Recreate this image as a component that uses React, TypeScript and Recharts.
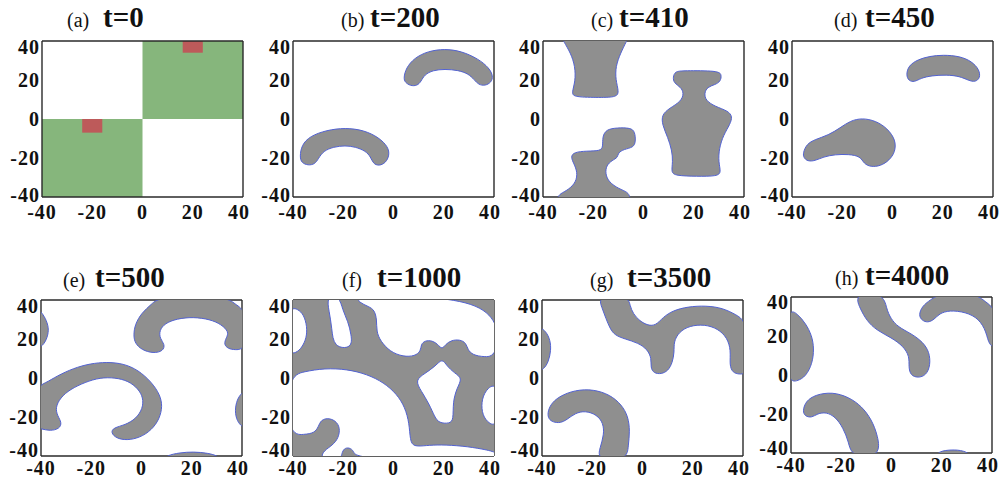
import React from "react";
import { ScatterChart, Scatter, XAxis, YAxis, ReferenceArea } from "recharts";

type Pt = [number, number];

const MAJOR = [-40, -20, 0, 20, 40];
const MINOR = [-40, -30, -20, -10, 0, 10, 20, 30, 40];

// (a) t=0 : rectangles [x1, x2, y1, y2]
const A_GREEN = [
  [0, 40, 0, 40],
  [-40, 0, -40, 0],
];
const A_RED = [
  [16, 24, 34, 40],
  [-24, -16, -7, 0],
];

// (b) t=200
const B_UPPER: Pt[] = [[4, 21], [5, 26.2], [8.3, 31.3], [13.7, 34.8], [20.4, 36], [27.1, 34.8], [33.8, 30.8], [38.1, 26.2], [39.7, 21.9], [38.9, 18.8], [36.5, 17], [33.8, 17.6], [32.2, 20.1], [29.8, 23.2], [25.8, 25], [20.4, 25.6], [15.7, 25], [12.3, 22.7], [11, 19.3], [9.4, 17], [6.7, 17], [4.6, 18.8]];
const B_LOWER: Pt[] = [[-37.3, -19.4], [-36.6, -13.4], [-33.3, -8.8], [-26.6, -5.7], [-19.2, -4.5], [-11.8, -5.7], [-5.8, -9.5], [-2.1, -14.3], [-1.6, -18.6], [-3.1, -22.5], [-5.8, -24.1], [-8.1, -22.9], [-9.1, -19.4], [-11.1, -16.4], [-15.2, -14.3], [-19.2, -13.6], [-23.9, -14.3], [-27.9, -16.4], [-29.9, -20.3], [-31.3, -23.2], [-34, -23.8], [-36.6, -22.5]];

// (c) t=410
const C_TOP: Pt[] = [[-32.5, 42], [-31.9, 40], [-29, 33.9], [-27.2, 27], [-27.1, 19.3], [-28.6, 13.3], [-27.7, 11.2], [-17.2, 11], [-10.5, 11.2], [-9.8, 14.1], [-11.1, 20.1], [-11.1, 27], [-9.1, 33.9], [-6.7, 40], [-6, 42]];
const C_LOWER: Pt[] = [[-34.8, -42], [-34, -40], [-33.3, -38.4], [-29.9, -36.3], [-26.8, -32.4], [-26.3, -27.2], [-27.7, -22.9], [-29, -19.4], [-27.7, -17], [-22.6, -16.4], [-17.2, -16.4], [-16.1, -14.3], [-16.4, -9.1], [-14.8, -5.3], [-10.5, -4.5], [-5.1, -4.5], [-3.4, -6.5], [-3.1, -11.7], [-4, -14.6], [-7.8, -15.5], [-10.2, -17.4], [-10.2, -19.8], [-12.5, -21.2], [-14.8, -23.8], [-15.2, -28.1], [-13.8, -32.4], [-9.8, -35.8], [-6.2, -37.5], [-5.4, -40], [-5, -42]];
const C_VASE: Pt[] = [[11.7, 21.5], [12.6, 24.4], [15.7, 24.8], [29.8, 24.8], [31.1, 22.7], [30.7, 19.3], [28.5, 17.6], [25.4, 16.4], [24.2, 13.3], [24.7, 9.5], [28.5, 6.4], [33.8, 4.1], [35.4, 1.2], [34.5, -2.6], [31.8, -8.3], [30.1, -15.1], [29.8, -22], [30.9, -27.2], [29.5, -29.4], [21.1, -29.4], [12.6, -29.1], [11, -27.2], [11.7, -22], [11.3, -16], [9.7, -9.5], [7.5, -3.1], [7.2, 2.1], [10.3, 5.5], [15, 9], [16.1, 13.3], [14.8, 16.4], [12.1, 18.4]];

// (d) t=450
const D_UPPER: Pt[] = [[5.4, 22.7], [6.4, 27.4], [10.1, 30.5], [14.8, 32.2], [20.1, 32.9], [26.8, 32.2], [31.5, 29.6], [34.6, 25.3], [34.9, 21], [32.9, 18.9], [30.2, 19.8], [26.8, 21.9], [21.5, 22.7], [15.4, 22.2], [11.4, 21], [8.7, 18.9], [6.4, 19.6]];
const D_LOWER: Pt[] = [[-35.6, -17.4], [-34.2, -12.9], [-30.9, -10.5], [-25.5, -8.3], [-20.8, -4.5], [-16.8, -0.9], [-12.1, 0.5], [-6.7, -0.9], [-2, -4.8], [1.3, -10.8], [1.1, -16.9], [-1.3, -21.2], [-4.7, -24.1], [-8.7, -24.6], [-11.4, -22.9], [-12.8, -19.1], [-17.4, -18.1], [-22.8, -18.2], [-27.5, -19.4], [-30.9, -21.5], [-33.8, -21.7], [-35.4, -19.8]];

// (e) t=500
const E_LEFT: Pt[] = [[-42, 35], [-40.2, 34.4], [-38.3, 30.9], [-36.8, 25.8], [-37.4, 20.7], [-39.4, 16.1], [-42, 15.5]];
const E_TOPRIGHT: Pt[] = [[-3.2, 21.9], [-2.6, 27.5], [0.1, 33.5], [4, 37.8], [7.3, 42], [33.8, 42], [37.1, 37.8], [42, 34.4], [42, 14.7], [37.1, 14.4], [34.5, 15], [32.7, 17.3], [33.8, 20.7], [34.8, 23.6], [31.8, 27.5], [27.2, 30.1], [20.6, 31.3], [14, 30.4], [9.3, 28], [7.1, 24.4], [7.3, 20.2], [9.3, 17.3], [8.7, 13.8], [4.7, 12.6], [0.1, 14.4], [-2.6, 17.8]];
const E_ARC: Pt[] = [[-42, -4.4], [-38.3, -2.7], [-33.7, 1], [-27.1, 5], [-20.4, 7.4], [-13.8, 8.2], [-7.2, 7.4], [-1.3, 4.1], [4, -2.1], [7.3, -8.4], [8.4, -14.4], [7.1, -21.2], [4, -26.7], [-0.6, -30.6], [-5.9, -32], [-10.1, -30.9], [-12.2, -28], [-11.2, -25.5], [-6.5, -24.1], [-2.2, -20.9], [0.5, -15.7], [0.7, -10.1], [-1.3, -5.5], [-5.2, -1.5], [-10.5, 0.2], [-16.5, 0.2], [-22.4, -2.1], [-28.4, -5.8], [-32.3, -10.1], [-34.3, -15.2], [-33.4, -19.5], [-31.7, -22.9], [-32.6, -26], [-36.3, -27.2], [-40, -26], [-42, -25.5]];
const E_RIGHT: Pt[] = [[42, -6], [40, -7.5], [38, -10.9], [37.1, -16.9], [38, -22.1], [40, -25], [42, -26]];
const E_BOTTOM: Pt[] = [[9, -42], [10, -39.7], [15.3, -38.3], [20.6, -37.8], [26.5, -38.5], [30.5, -40], [31.5, -42]];

// (f) t=1000 : grey field with white holes
const F_FIELD: Pt[] = [[-42, -42], [-42, 42], [42, 42], [42, -42]];
const F_HOLE_LEFT: Pt[] = [[-42, 36.6], [-38, 35.4], [-35.7, 32.4], [-34.4, 26.5], [-34.6, 20.5], [-36.5, 15.5], [-38.7, 12.9], [-42, 12.1]];
const F_HOLE_SLIT: Pt[] = [[-26.7, 42], [-25.6, 34.1], [-24.5, 25.6], [-23.9, 15.5], [-16.4, 15.1], [-16.8, 22.2], [-18.1, 29], [-20.3, 34.9], [-21.5, 42]];
const F_HOLE_TOP: Pt[] = [[-15.3, 42], [-13.8, 38.8], [-9.8, 36.6], [-7.6, 34.9], [-6.6, 29.9], [-6.8, 23.9], [-5.2, 18.9], [-1.3, 13.4], [3.9, 10.9], [8.5, 11.2], [10.9, 13.8], [10.9, 17.2], [12.5, 19.2], [15.5, 19.2], [17.7, 17.2], [19.3, 14.6], [20.7, 17.2], [23, 19.4], [26.5, 19.7], [28.9, 18], [29.5, 14.6], [31.5, 11.8], [36.1, 10.7], [42, 11.2], [42, 42]];
const F_HOLE_TRI: Pt[] = [[8.5, -1.1], [12.5, 2.3], [16.8, 6.2], [19.4, 10.1], [21.2, 6.2], [24.3, 2.5], [27.5, -0.1], [25.2, -5.2], [23.6, -12.4], [23.9, -21.4], [22.3, -23.4], [18.1, -23.1], [16.4, -20], [14.2, -13.3], [11.1, -6.8]];
const F_HOLE_RIGHT: Pt[] = [[42, -2.3], [37.4, -4.8], [35.1, -10.7], [35.1, -17.5], [37, -22.6], [42, -26]];
const F_HOLE_LOWER: Pt[] = [[-42, 1.1], [-35.4, 3.3], [-27.5, 5], [-18.4, 4.5], [-10.5, 1.9], [-3.9, -2.3], [1.3, -8.2], [4.6, -15], [6.3, -23.4], [6.6, -31.9], [7.9, -35.3], [13.1, -34.6], [18.4, -34.2], [27.5, -34.8], [35.4, -36.4], [42, -38.3], [42, -42], [-15.1, -42], [-15.7, -37.3], [-17.7, -35.6], [-19.7, -36.1], [-20.6, -38.7], [-21, -42], [-28.9, -42], [-28.2, -37.8], [-25.2, -35.3], [-22.3, -31.9], [-21.2, -26.8], [-22.3, -22.6], [-25.6, -20.4], [-28.9, -21.4], [-29.9, -25.1], [-31.5, -28.2], [-35.4, -29], [-42, -29.3]];

// (g) t=3500
const G_LEFT: Pt[] = [[-42, 27.5], [-38.3, 23.9], [-36.7, 19.3], [-36.4, 14.2], [-37.4, 8.3], [-39.3, 4.4], [-42, 3.2]];
const G_MAIN: Pt[] = [[-17.8, 42], [-16.2, 36.3], [-14.5, 30.3], [-12.9, 25.3], [-11, 21.9], [-7, 20], [-1.7, 18], [2, 14.6], [3.6, 10], [3.2, 5.4], [4.5, 2.4], [7.5, 2], [10.2, 3.7], [11.9, 7.8], [12.7, 13.4], [12.4, 18.5], [14.5, 23.6], [18.7, 26.8], [24.7, 27.5], [30, 25.3], [33.7, 20.7], [35.2, 14.2], [34.6, 6.6], [35.9, 2.7], [38.5, 1.9], [42, 2], [42, 28.6], [37.2, 32.5], [31.9, 35.9], [25.3, 37.1], [18.1, 36.6], [12.1, 34.6], [8.2, 31.2], [5.3, 26.9], [2.2, 26.9], [-1.1, 29.2], [-3.7, 32.9], [-5, 37.1], [-5.6, 42]];
const G_LOWER: Pt[] = [[-37.8, -18], [-36.7, -13.7], [-33.4, -9.5], [-26.8, -6.1], [-19.5, -5.8], [-12.9, -8.6], [-8.3, -13.7], [-5.7, -19.7], [-5, -27.3], [-5.7, -34.9], [-6.1, -42], [-18.1, -42], [-16.9, -35.8], [-15.3, -29], [-15.6, -23.1], [-18.2, -18.8], [-22.8, -16.8], [-26.8, -18], [-30.1, -21.4], [-32.7, -23.1], [-35.6, -22.7], [-37.4, -21]];

// (h) t=4000
const H_LEFT: Pt[] = [[-42, 34.9], [-37.4, 31.5], [-34.1, 26.3], [-31.7, 20.3], [-30.8, 13.5], [-31.5, 5.8], [-34.1, -0.7], [-37.4, -3.2], [-42, -3.8]];
const H_STEM: Pt[] = [[-14.9, 42], [-12.5, 34], [-9.8, 27.7], [-5.9, 22.9], [0, 19.1], [4.6, 14.9], [7.2, 9.6], [6.8, 4.1], [7.6, -0.2], [10.5, -1.5], [13.8, -0.2], [15.5, 5], [15.1, 11.8], [12.5, 16.9], [7.9, 21.2], [2.6, 24.6], [-0.3, 28.9], [-2, 34], [-3.2, 42]];
const H_ARCH: Pt[] = [[10.8, 30.6], [12.1, 35.2], [15.5, 38.6], [19.7, 42], [33.4, 42], [37.4, 37.4], [42, 33.5], [42, 13.5], [38.7, 15.2], [37.8, 22.1], [34.8, 28.9], [29.5, 32.3], [23, 33.2], [19, 31.5], [17, 28.4], [14.4, 26.8], [12.1, 28]];
const H_LOWER: Pt[] = [[-35.4, -18.5], [-34.1, -13.3], [-30.2, -10.1], [-23.6, -8.7], [-17, -11.3], [-11.8, -16.1], [-7.9, -22.9], [-5.5, -30.9], [-4.2, -42], [-16, -42], [-17, -34.4], [-19.3, -27], [-22.3, -21.5], [-26, -19], [-29.5, -19.8], [-31.7, -21.9], [-34.4, -21.2]];
const H_BOTTOM: Pt[] = [[17, -42], [19, -39.1], [23.6, -38.3], [28.9, -38.6], [32.8, -42]];

const GRAY = "#8f8f8f";
const EDGE = "#5262d2";
const GREEN = "#86b67c";
const RED = "#bd5a5a";
const FRAME = "#2a2a2a";
const TICK = "#8a8a8a";
const SERIF = "'Liberation Serif', 'Times New Roman', serif";

type Blob = { pts: Pt[]; fill: string; stroke: string; curve: "basisClosed" | "linearClosed" };
const blob = (pts: Pt[]): Blob => ({ pts, fill: GRAY, stroke: EDGE, curve: "basisClosed" });
const hole = (pts: Pt[]): Blob => ({ pts, fill: "#ffffff", stroke: EDGE, curve: "basisClosed" });

// yTop / yBot: vertical nudge of the 40 / -40 y labels, as in the original
const PANELS = [
  { id: "a", left: 42, top: 41, tm: 8, yTop: 6, yBot: -2, tag: "(a)", t: "t=0", tagX: 67, tX: 103, base: 27, rects: true, blobs: [] as Blob[] },
  { id: "b", left: 293, top: 41, tm: 8, yTop: 6, yBot: -2, tag: "(b)", t: "t=200", tagX: 341, tX: 370, base: 27, blobs: [blob(B_UPPER), blob(B_LOWER)] },
  { id: "c", left: 543, top: 41, tm: 8, yTop: 6, yBot: -2, tag: "(c)", t: "t=410", tagX: 591, tX: 619, base: 27, blobs: [blob(C_TOP), blob(C_LOWER), blob(C_VASE)] },
  { id: "d", left: 792, top: 41, tm: 8, yTop: 6, yBot: -2, tag: "(d)", t: "t=450", tagX: 834, tX: 865, base: 27, blobs: [blob(D_UPPER), blob(D_LOWER)] },
  { id: "e", left: 41, top: 300, tm: 5, yTop: 6, yBot: -6, tag: "(e)", t: "t=500", tagX: 63, tX: 95, base: 287, blobs: [blob(E_LEFT), blob(E_TOPRIGHT), blob(E_ARC), blob(E_RIGHT), blob(E_BOTTOM)] },
  {
    id: "f", left: 293, top: 300, tm: 5, yTop: 6, yBot: -6, tag: "(f)", t: "t=1000", tagX: 342, tX: 377, base: 287,
    blobs: [
      { pts: F_FIELD, fill: GRAY, stroke: "none", curve: "linearClosed" } as Blob,
      hole(F_HOLE_LEFT), hole(F_HOLE_SLIT), hole(F_HOLE_TOP), hole(F_HOLE_TRI), hole(F_HOLE_RIGHT), hole(F_HOLE_LOWER),
    ],
  },
  { id: "g", left: 542, top: 300, tm: 5, yTop: 6, yBot: -6, tag: "(g)", t: "t=3500", tagX: 590, tX: 627, base: 287, blobs: [blob(G_LEFT), blob(G_MAIN), blob(G_LOWER)] },
  { id: "h", left: 791, top: 297, tm: 5, yTop: 5, yBot: -5, tag: "(h)", t: "t=4000", tagX: 835, tX: 865, base: 285, blobs: [blob(H_LEFT), blob(H_STEM), blob(H_ARCH), blob(H_LOWER), blob(H_BOTTOM)] },
];

const tickFont = { fontFamily: SERIF, fontWeight: 700, fontSize: 20, fill: "#111", letterSpacing: 1 };

const YTick = (props: any) => {
  const { x, y, payload, yTop, yBot } = props;
  const shift = payload.value === 40 ? yTop : payload.value === -40 ? yBot : 0;
  return (
    <text x={x} y={y + shift} dy="0.35em" textAnchor="end" {...tickFont}>
      {payload.value}
    </text>
  );
};

const XTick = (props: any) => {
  const { x, y, payload } = props;
  const shift = payload.value === 40 ? -4 : 0;
  return (
    <text x={x + shift} y={y} dy="0.71em" textAnchor="middle" {...tickFont}>
      {payload.value}
    </text>
  );
};

function Panel({ p }: { p: any }) {
  const W = 201;
  const H = 156;
  return (
    <div style={{ position: "absolute", left: p.left - 45, top: p.top - 10 }}>
      <ScatterChart width={45 + W + 12} height={10 + H + 34} margin={{ top: 10, right: 12, bottom: 0, left: 5 }}>
        <XAxis xAxisId="b" type="number" dataKey="x" domain={[-40, 40]} allowDataOverflow ticks={MAJOR} interval={0}
          height={34} axisLine={false} tickLine={false} tickSize={0} tickMargin={p.tm} tick={(tp: any) => <XTick {...tp} />} />
        <XAxis xAxisId="bm" type="number" orientation="bottom" mirror domain={[-40, 40]} allowDataOverflow ticks={MINOR}
          interval={0} tick={false} tickSize={4} tickLine={{ stroke: TICK }} axisLine={{ stroke: FRAME, strokeWidth: 1.4 }} />
        <XAxis xAxisId="tm" type="number" orientation="top" mirror domain={[-40, 40]} allowDataOverflow ticks={MINOR}
          interval={0} tick={false} tickSize={4} tickLine={{ stroke: TICK }} axisLine={{ stroke: FRAME, strokeWidth: 1.4 }} />
        <YAxis yAxisId="l" type="number" dataKey="y" domain={[-40, 40]} allowDataOverflow ticks={MAJOR} interval={0}
          width={40} axisLine={false} tickLine={false} tickSize={0} tickMargin={2}
          tick={(tp: any) => <YTick {...tp} yTop={p.yTop} yBot={p.yBot} />} />
        <YAxis yAxisId="lm" type="number" orientation="left" mirror domain={[-40, 40]} allowDataOverflow ticks={MINOR}
          interval={0} tick={false} tickSize={4} tickLine={{ stroke: TICK }} axisLine={{ stroke: FRAME, strokeWidth: 1.4 }} />
        <YAxis yAxisId="rm" type="number" orientation="right" mirror domain={[-40, 40]} allowDataOverflow ticks={MINOR}
          interval={0} tick={false} tickSize={4} tickLine={{ stroke: TICK }} axisLine={{ stroke: FRAME, strokeWidth: 1.4 }} />
        {p.rects &&
          A_GREEN.map((r, i) => (
            <ReferenceArea key={"g" + i} xAxisId="b" yAxisId="l" x1={r[0]} x2={r[1]} y1={r[2]} y2={r[3]}
              fill={GREEN} fillOpacity={1} stroke="none" />
          ))}
        {p.rects &&
          A_RED.map((r, i) => (
            <ReferenceArea key={"r" + i} xAxisId="b" yAxisId="l" x1={r[0]} x2={r[1]} y1={r[2]} y2={r[3]}
              fill={RED} fillOpacity={1} stroke="none" />
          ))}
        {p.blobs.map((b: Blob, i: number) => (
          <Scatter
            key={p.id + i}
            xAxisId="b"
            yAxisId="l"
            data={b.pts.map(([x, y]) => ({ x, y }))}
            line={{ fill: b.fill, stroke: b.stroke, strokeWidth: 1 }}
            lineJointType={b.curve}
            shape={() => <g />}
            isAnimationActive={false}
          />
        ))}
      </ScatterChart>
    </div>
  );
}

export default function App() {
  return (
    <div style={{ position: "absolute", left: 0, top: 0, width: 999, height: 487, background: "#fff" }}>
      {PANELS.map((p) => (
        <Panel key={p.id} p={p} />
      ))}
      <svg width={999} height={487} style={{ position: "absolute", left: 0, top: 0, pointerEvents: "none" }}>
        {PANELS.map((p) => (
          <g key={p.id} fontFamily={SERIF} fill="#111">
            <text x={p.tagX} y={p.base} fontSize={20}>{p.tag}</text>
            <text x={p.tX} y={p.base} fontSize={29} fontWeight={700}>{p.t}</text>
          </g>
        ))}
      </svg>
    </div>
  );
}
